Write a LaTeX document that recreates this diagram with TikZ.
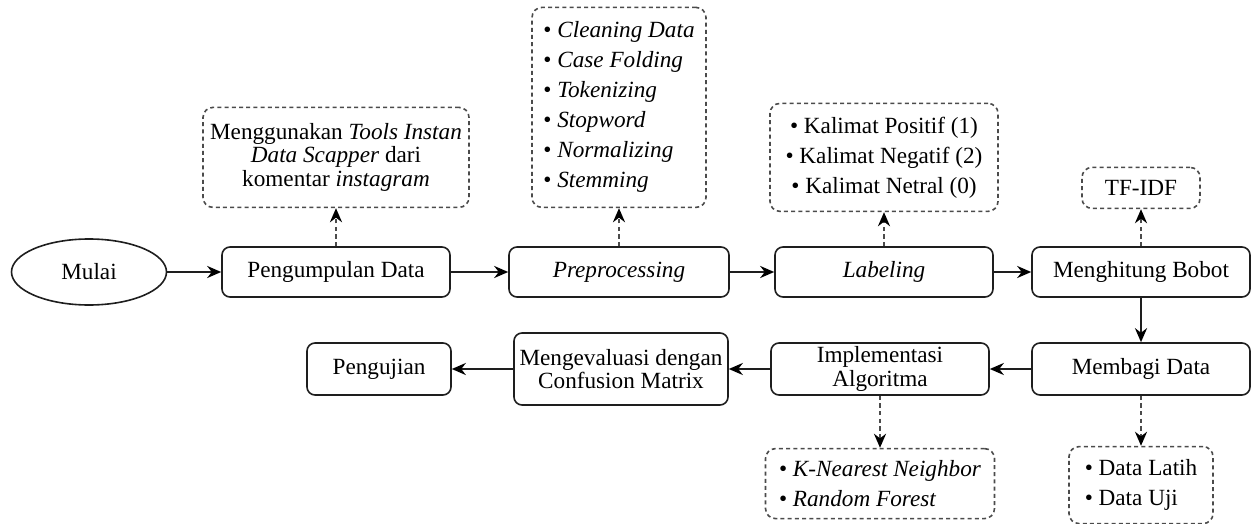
\documentclass[tikz,border=0pt]{standalone}
\usepackage{fontspec}
\setmainfont{LiberationSerif}[Extension=.ttf, UprightFont=*-Regular, ItalicFont=*-Italic,
  BoldFont=*-Bold, BoldItalicFont=*-BoldItalic]
\usetikzlibrary{positioning, arrows.meta, shapes.geometric}
\definecolor{boxline}{RGB}{30,30,30}
\definecolor{noteline}{RGB}{75,75,75}
\tikzset{
  flowbox/.style = {rectangle, draw=boxline, line width=0.8pt, rounded corners=4pt,
                    align=center, inner sep=1pt, font=\fontsize{11.6}{11.7}\selectfont},
  startnode/.style = {ellipse, draw=boxline, line width=0.8pt, inner sep=0pt,
                      font=\fontsize{11.6}{11.7}\selectfont},
  notebox/.style = {rectangle, draw=noteline, line width=0.8pt, dash pattern=on 2pt off 1.6pt,
                    rounded corners=5pt, inner sep=1pt, font=\fontsize{11.6}{15}\selectfont},
  flowarrow/.style = {-{Stealth[length=7pt,width=6pt,color=black]}, line width=1.2pt, draw=boxline},
  notearrow/.style = {flowarrow, draw=noteline, dash pattern=on 2.2pt off 1.6pt}
}

\begin{document}
\begin{tikzpicture}[x=0.5pt, y=-0.5pt, node distance=19pt]
\useasboundingbox (0,0) rectangle (1253,524);

% alur utama
\node[startnode, minimum width=77.5pt, minimum height=33pt] (mulai) at (89,272) {Mulai};
\node[flowbox, minimum width=114pt, minimum height=25pt] (kumpul) at (336,272) {Pengumpulan Data};
\node[flowbox, minimum width=110pt, minimum height=25pt] (prepro) at (619,272) {\textit{Preprocessing}};
\node[flowbox, minimum width=109pt, minimum height=25pt] (label) at (884,272) {\textit{Labeling}};
\node[flowbox, minimum width=109pt, minimum height=25pt] (bobot) at (1141,272) {Menghitung Bobot};

\node[flowbox, minimum width=109pt, minimum height=26pt] (bagi) at (1141,369) {Membagi Data};
\node[flowbox, minimum width=109pt, minimum height=26pt] (implement) at (880,369) {Implementasi\\Algoritma};
\node[flowbox, minimum width=107pt, minimum height=36pt] (evaluasi) at (621,369) {Mengevaluasi dengan\\Confusion Matrix};
\node[flowbox, minimum width=72pt, minimum height=26pt] (uji) at (379,369) {Pengujian};

% keterangan
\node[notebox, minimum width=133pt, minimum height=50pt, align=center,
      font=\fontsize{11.6}{11.7}\selectfont, above=of kumpul] (tools)
  {Menggunakan \textit{Tools Instan}\\\textit{Data Scapper} dari\\komentar \textit{instagram}};
\node[notebox, minimum width=87pt, minimum height=100pt, align=left, above=of prepro] (prelist)
  {\textbullet\ \textit{Cleaning Data}\\\textbullet\ \textit{Case Folding}\\\textbullet\ \textit{Tokenizing}\\
   \textbullet\ \textit{Stopword}\\\textbullet\ \textit{Normalizing}\\\textbullet\ \textit{Stemming}};
\node[notebox, minimum width=114pt, minimum height=54pt, align=center, above=17pt of label] (labellist)
  {\textbullet\ Kalimat Positif (1)\\\textbullet\ Kalimat Negatif (2)\\\textbullet\ Kalimat Netral (0)};
\node[notebox, minimum width=59pt, minimum height=20.5pt, above=18.5pt of bobot] (tfidf) {TF-IDF};
\node[notebox, minimum width=114.5pt, minimum height=35pt, align=left, below=26pt of implement] (knn)
  {\textbullet\ \textit{K-Nearest Neighbor}\\\textbullet\ \textit{Random Forest}};
\node[notebox, minimum width=72pt, minimum height=38.5pt, align=left, below=25pt of bagi] (datalist)
  {\textbullet\ Data Latih\\\textbullet\ Data Uji};

\draw[flowarrow] (mulai) -- (kumpul);
\draw[flowarrow] (kumpul) -- (prepro);
\draw[flowarrow] (prepro) -- (label);
\draw[flowarrow] (label) -- (bobot);
\draw[flowarrow] (bobot) -- (bagi);
\draw[flowarrow] (bagi) -- (implement);
\draw[flowarrow] (implement) -- (evaluasi);
\draw[flowarrow] (evaluasi) -- (uji);

\draw[notearrow] (kumpul) -- (tools);
\draw[notearrow] (prepro) -- (prelist);
\draw[notearrow] (label) -- (labellist);
\draw[notearrow] (bobot) -- (tfidf);
\draw[notearrow] (implement) -- (knn);
\draw[notearrow] (bagi) -- (datalist);
\end{tikzpicture}
\end{document}
